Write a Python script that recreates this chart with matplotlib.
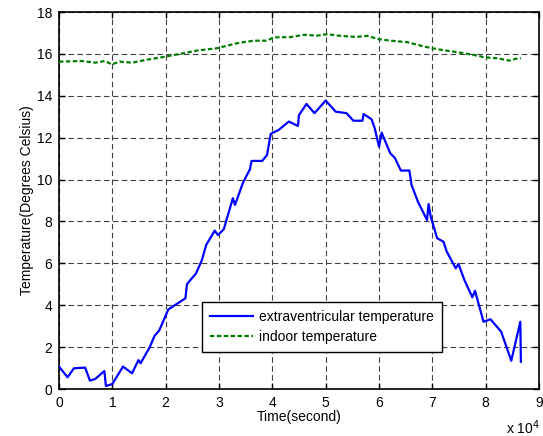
import matplotlib
matplotlib.use('Agg')
import matplotlib.pyplot as plt

plt.rcParams['font.family'] = ['Liberation Sans', 'DejaVu Sans']
plt.rcParams['font.size'] = 10

# time in units of 1e4 seconds
tBrain = [0.00, 0.16, 0.28, 0.49, 0.58, 0.68, 0.85, 0.88, 1.00, 1.20, 1.37,
          1.49, 1.53, 1.70, 1.79, 1.88, 2.05, 2.37, 2.40, 2.57, 2.68, 2.76,
          2.92, 2.98, 3.09, 3.26, 3.30, 3.45, 3.58, 3.61, 3.81, 3.90, 3.97,
          4.12, 4.31, 4.48, 4.50, 4.64, 4.79, 5.00, 5.19, 5.39, 5.52, 5.69,
          5.71, 5.86, 5.92, 6.00, 6.05, 6.21, 6.30, 6.41, 6.57, 6.61, 6.73,
          6.90, 6.93, 6.97, 7.09, 7.21, 7.27, 7.44, 7.49, 7.60, 7.75, 7.80,
          7.96, 8.09, 8.29, 8.48, 8.65, 8.66]
brainTemp = [1.07, 0.56, 0.99, 1.02, 0.40, 0.48, 0.86, 0.14, 0.24, 1.07, 0.75,
             1.38, 1.23, 1.99, 2.53, 2.80, 3.80, 4.33, 5.01, 5.52, 6.16, 6.88,
             7.56, 7.35, 7.63, 9.11, 8.79, 9.85, 10.49, 10.89, 10.89, 11.17,
             12.18, 12.37, 12.77, 12.56, 13.08, 13.61, 13.17, 13.77, 13.24,
             13.17, 12.81, 12.81, 13.13, 12.88, 12.45, 11.57, 12.24, 11.26,
             11.02, 10.43, 10.43, 9.74, 8.94, 8.07, 8.83, 8.23, 7.20, 7.03,
             6.56, 5.76, 5.97, 5.21, 4.38, 4.69, 3.21, 3.33, 2.74, 1.35, 3.21,
             1.30]

tRoom = [0.00, 0.43, 0.68, 0.86, 0.99, 1.14, 1.37, 1.62, 1.93, 2.27, 2.59,
         2.96, 3.34, 3.65, 3.89, 4.03, 4.34, 4.59, 4.84, 5.03, 5.28, 5.56,
         5.78, 6.00, 6.22, 6.53, 6.85, 7.10, 7.47, 7.78, 7.97, 8.22, 8.44,
         8.60, 8.66]
roomTemp = [15.63, 15.66, 15.58, 15.66, 15.50, 15.63, 15.58, 15.71, 15.84,
            16.00, 16.16, 16.27, 16.51, 16.63, 16.63, 16.79, 16.80, 16.91,
            16.87, 16.94, 16.86, 16.81, 16.86, 16.70, 16.63, 16.56, 16.35,
            16.22, 16.08, 15.95, 15.84, 15.79, 15.68, 15.79, 15.79]

xTicks = list(range(0, 10))
yTicks = list(range(0, 19, 2))

fig = plt.figure(figsize=(5.43, 4.36), dpi=100)
ax = fig.add_axes([59/543, 47/436, 480/543, 377/436])

ax.plot(tBrain, brainTemp, color='#0000ff', linewidth=1.6,
        label='extraventricular temperature', zorder=3)
ax.plot(tRoom, roomTemp, color='#008000', linewidth=1.6,
        linestyle='--', dashes=(2, 1.1),
        label='indoor temperature', zorder=3)

ax.set_xlim(0, 9)
ax.set_ylim(0, 18)
ax.set_xticks(xTicks)
ax.set_yticks(yTicks)
ax.grid(True, color='0.25', linestyle=(0, (5, 3)), linewidth=0.8)
ax.tick_params(direction='in', length=4, width=1, top=True, right=True,
               pad=5, labelsize=10)
for spine in ax.spines.values():
    spine.set_linewidth(1.2)

ax.set_xlabel('Time(second)', labelpad=0)
ax.set_ylabel('Temperature(Degrees Celsius)', labelpad=2)
fig.text(506/543, 1 - 428/436, r'x 10$^{4}$', fontsize=10, va='center')

legend = ax.legend(loc='lower left', bbox_to_anchor=(0.298, 0.098),
                   borderaxespad=0, fancybox=False, handlelength=3.1,
                   handletextpad=0.4, borderpad=0.6, labelspacing=0.42,
                   fontsize=10)
legend.get_frame().set_edgecolor('k')
legend.get_frame().set_linewidth(1.0)
legend.get_frame().set_alpha(None)

fig.savefig('out.png', dpi=100)
